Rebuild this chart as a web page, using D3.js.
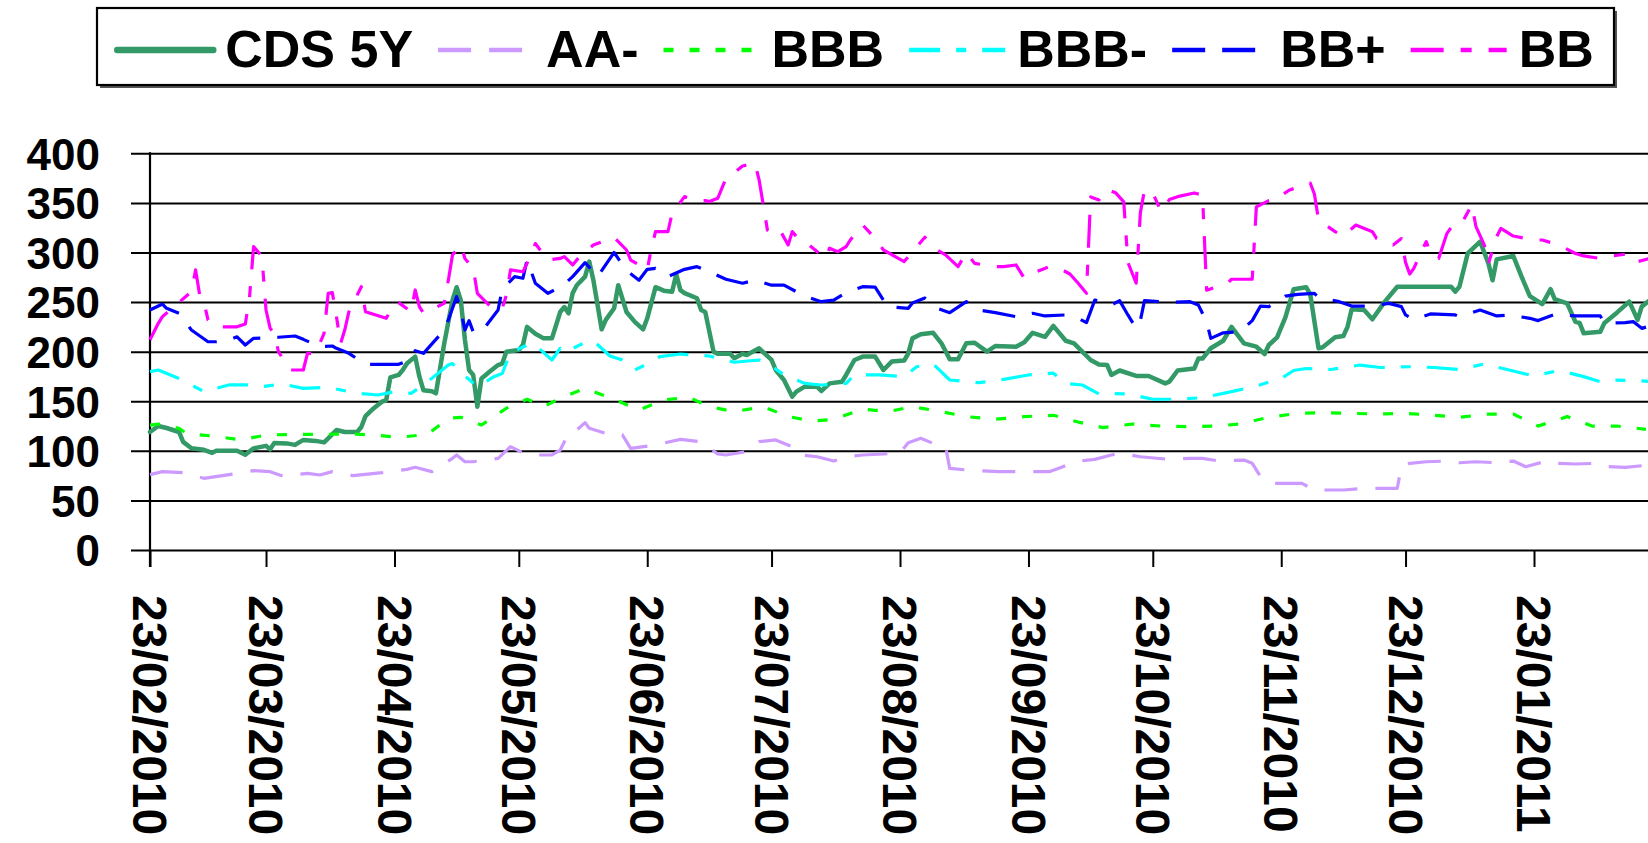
<!DOCTYPE html>
<html>
<head>
<meta charset="utf-8">
<script src="https://cdn.jsdelivr.net/npm/d3@7"></script>
<style>
  html, body { margin: 0; padding: 0; background: #fff; overflow: hidden; }
  svg { display: block; }
  text { font-family: "Liberation Sans", Arial, Helvetica, sans-serif; font-weight: bold; fill: #000; }
</style>
</head>
<body>
<svg id="chart" width="1648" height="843"></svg>
<script>
// ---- data ----------------------------------------------------------------
const seriesNames = ["CDS 5Y", "AA-", "BBB", "BBB-", "BB+", "BB"];

const xTickLabels = ["23/02/2010", "23/03/2010", "23/04/2010", "23/05/2010", "23/06/2010", "23/07/2010",
                     "23/08/2010", "23/09/2010", "23/10/2010", "23/11/2010", "23/12/2010", "23/01/2011"];
const yTickValues = [0, 50, 100, 150, 200, 250, 300, 350, 400];

const cds5y = [
  ["2010-02-23",119],["2010-02-25",125],["2010-02-27",123],["2010-03-02",119],["2010-03-03",109],
  ["2010-03-05",102.5],["2010-03-08",101],["2010-03-10",98],["2010-03-11",100],["2010-03-16",100],
  ["2010-03-18",96],["2010-03-20",102.5],["2010-03-23",105],["2010-03-24",101.5],["2010-03-25",108],
  ["2010-03-28",107.5],["2010-03-30",106],["2010-04-01",111],["2010-04-04",110],["2010-04-06",108.5],
  ["2010-04-07",112.6],["2010-04-09",121],["2010-04-11",119],["2010-04-14",119],["2010-04-15",124],
  ["2010-04-16",135],["2010-04-18",143],["2010-04-20",149.6],["2010-04-21",151],["2010-04-22",174],
  ["2010-04-24",176.5],["2010-04-25",181.5],["2010-04-26",188],["2010-04-28",195],["2010-04-29",175],
  ["2010-04-30",161],["2010-05-02",160],["2010-05-03",158],["2010-05-05",208],["2010-05-07",252],
  ["2010-05-08",265],["2010-05-09",252],["2010-05-10",212],["2010-05-11",181.5],["2010-05-12",176.5],
  ["2010-05-13",144.5],["2010-05-14",173],["2010-05-16",180],["2010-05-18",186.5],["2010-05-19",188],
  ["2010-05-20",200],["2010-05-23",201.7],["2010-05-24",206.7],["2010-05-25",225],["2010-05-27",218],
  ["2010-05-29",213.4],["2010-05-31",213.4],["2010-06-02",240],["2010-06-03",245],["2010-06-04",238.7],
  ["2010-06-05",259],["2010-06-06",267],["2010-06-08",275.6],["2010-06-09",290.8],["2010-06-10",272],
  ["2010-06-12",222.5],["2010-06-13",232],["2010-06-15",243.7],["2010-06-16",267],["2010-06-18",240],
  ["2010-06-20",230],["2010-06-22",222.5],["2010-06-23",233.6],["2010-06-25",265],["2010-06-27",261.5],
  ["2010-06-29",260.5],["2010-06-30",278],["2010-07-01",262],["2010-07-02",259],["2010-07-05",253.8],
  ["2010-07-06",242],["2010-07-07",240],["2010-07-09",200],["2010-07-10",197.8],["2010-07-13",197.8],
  ["2010-07-14",193.3],["2010-07-16",197.8],["2010-07-17",196.6],["2010-07-20",203.4],["2010-07-23",191.6],
  ["2010-07-24",181.5],["2010-07-26",171.4],["2010-07-28",154.6],["2010-07-29",159.7],["2010-07-31",164.7],
  ["2010-08-03",164.7],["2010-08-04",160.3],["2010-08-06",168],["2010-08-09",169.7],["2010-08-10",176.5],
  ["2010-08-12",191.6],["2010-08-14",195],["2010-08-17",195],["2010-08-19",181.5],["2010-08-21",190],
  ["2010-08-24",191],["2010-08-25",198.3],["2010-08-26",213.4],["2010-08-28",217.5],["2010-08-31",219],
  ["2010-09-02",208.4],["2010-09-04",192.3],["2010-09-06",192.3],["2010-09-08",208.4],["2010-09-10",209],
  ["2010-09-13",200],["2010-09-15",205.7],["2010-09-20",205],["2010-09-22",209.4],["2010-09-24",219],
  ["2010-09-27",215],["2010-09-29",226],["2010-10-02",211],["2010-10-04",208.4],["2010-10-08",191.6],
  ["2010-10-10",187],["2010-10-12",186.5],["2010-10-13",176.5],["2010-10-15",181],["2010-10-19",175.5],
  ["2010-10-22",175.5],["2010-10-26",168],["2010-10-27",169.7],["2010-10-29",181],["2010-11-02",183],
  ["2010-11-03",193],["2010-11-04",193],["2010-11-06",203.4],["2010-11-09",211],["2010-11-11",225],
  ["2010-11-14",208.4],["2010-11-17",205],["2010-11-19",197.6],["2010-11-20",206.7],["2010-11-22",214.5],
  ["2010-11-24",234.6],["2010-11-25",248.7],["2010-11-26",263],["2010-11-29",265],["2010-11-30",258],
  ["2010-12-02",203.4],["2010-12-03",204.4],["2010-12-06",214.5],["2010-12-08",215.8],["2010-12-09",225],
  ["2010-12-10",242.7],["2010-12-13",242],["2010-12-15",232.6],["2010-12-18",250.4],["2010-12-21",265.5],
  ["2011-01-03",265.5],["2011-01-04",260.5],["2011-01-05",265.5],["2011-01-07",299],["2011-01-10",311],
  ["2011-01-12",289],["2011-01-13",272],["2011-01-14",293],["2011-01-18",296.5],["2011-01-20",275.6],
  ["2011-01-22",256],["2011-01-25",248],["2011-01-27",263],["2011-01-28",253],["2011-01-31",248.7],
  ["2011-02-02",230],["2011-02-03",229],["2011-02-04",218.5],["2011-02-08",220],["2011-02-09",229],
  ["2011-02-12",239.3],["2011-02-15",250.4],["2011-02-17",232],["2011-02-18",245.4],["2011-02-20",252]
];

const aaMinus = [
  ["2010-02-23",76],["2010-02-26",79],["2010-03-03",78],["2010-03-08",72.3],["2010-03-15",76.6],
  ["2010-03-20",80],["2010-03-24",79],["2010-03-27",74.6],["2010-04-02",77.3],["2010-04-05",75.6],
  ["2010-04-08",79],["2010-04-13",75],["2010-04-20",78],["2010-04-26",81.3],["2010-04-28",83.4],
  ["2010-05-02",79],["2010-05-07",92.4],["2010-05-08",95.8],["2010-05-10",89],["2010-05-12",89],
  ["2010-05-18",92.4],["2010-05-21",104.2],["2010-05-24",98],["2010-05-27",95.8],["2010-05-31",95.8],
  ["2010-06-02",100.8],["2010-06-04",117.6],["2010-06-06",121],["2010-06-08",128.4],["2010-06-09",122.7],
  ["2010-06-15",115],["2010-06-17",116],["2010-06-19",102.5],["2010-06-25",105.9],["2010-07-01",111.6],
  ["2010-07-06",109.2],["2010-07-10",96.8],["2010-07-12",95.8],["2010-07-17",99.2],["2010-07-20",109.2],
  ["2010-07-24",111],["2010-07-28",104.2],["2010-07-30",95.8],["2010-08-03",94],["2010-08-07",89.7],
  ["2010-08-10",94],["2010-08-14",95.8],["2010-08-19",96.8],["2010-08-23",98],["2010-08-25",108.2],
  ["2010-08-28",112.6],["2010-08-31",107.5],["2010-09-03",104.2],["2010-09-04",82.3],["2010-09-08",80.7],
  ["2010-09-10",80],["2010-09-16",79],["2010-09-20",79],["2010-09-28",79],["2010-10-01",83.4],
  ["2010-10-04",89],["2010-10-09",91.4],["2010-10-13",95.8],["2010-10-15",97.5],["2010-10-20",94],
  ["2010-10-27",91.4],["2010-11-01",92.4],["2010-11-04",92.4],["2010-11-08",89.7],["2010-11-14",90.7],
  ["2010-11-16",87.4],["2010-11-18",74],["2010-11-21",67.2],["2010-11-28",67.2],["2010-12-01",60.5],
  ["2010-12-08",60.5],["2010-12-13",62.2],["2010-12-21",62.2],["2010-12-22",84],["2010-12-24",87.4],
  ["2010-12-28",89],["2011-01-02",89.7],["2011-01-05",88],["2011-01-09",89],["2011-01-14",88],
  ["2011-01-18",89.7],["2011-01-21",84],["2011-01-26",89.7],["2011-01-28",87.4],["2011-02-02",86.7],
  ["2011-02-07",87.4],["2011-02-10",84],["2011-02-14",83.4],["2011-02-20",85.7]
];

const bbb = [
  ["2010-02-23",126],["2010-02-25",127],["2010-03-02",122.7],["2010-03-04",117],["2010-03-10",115],
  ["2010-03-17",111],["2010-03-23",116],["2010-03-30",116.6],["2010-04-05",116.6],["2010-04-13",117],
  ["2010-04-18",116],["2010-04-24",113.6],["2010-05-01",116.6],["2010-05-06",132.8],["2010-05-09",133.8],
  ["2010-05-14",126],["2010-05-20",142.9],["2010-05-25",152],["2010-05-29",144.5],["2010-06-02",153],
  ["2010-06-08",163],["2010-06-15",152],["2010-06-21",141.2],["2010-06-27",151.3],["2010-07-03",154],
  ["2010-07-08",144.5],["2010-07-14",139.5],["2010-07-21",144.5],["2010-07-27",134.5],["2010-08-02",130],
  ["2010-08-07",131.8],["2010-08-14",142],["2010-08-20",139.5],["2010-08-26",144.5],["2010-09-02",139.5],
  ["2010-09-08",134.5],["2010-09-15",131.8],["2010-09-22",134.5],["2010-09-29",135.8],["2010-10-05",129],
  ["2010-10-11",123.4],["2010-10-18",127],["2010-10-25",125],["2010-10-31",124.4],["2010-11-07",125],
  ["2010-11-13",127],["2010-11-20",133.8],["2010-11-27",137.8],["2010-12-03",138.5],["2010-12-10",137.8],
  ["2010-12-16",137.1],["2010-12-23",137.8],["2010-12-30",135.8],["2011-01-05",133.8],["2011-01-12",137.1],
  ["2011-01-18",137.1],["2011-01-24",125],["2011-01-31",134.5],["2011-02-06",125],["2011-02-12",125],
  ["2011-02-19",121.7]
];

const bbbMinus = [
  ["2010-02-23",179.8],["2010-02-25",181.5],["2010-03-02",173],["2010-03-08",159.7],["2010-03-14",166.4],
  ["2010-03-19",166.4],["2010-03-22",164.7],["2010-03-27",167.4],["2010-04-01",163],["2010-04-07",164],
  ["2010-04-14",158],["2010-04-19",156.3],["2010-04-23",159.7],["2010-04-27",158],["2010-04-30",166.4],
  ["2010-05-06",186.5],["2010-05-07",188],["2010-05-10",175.5],["2010-05-13",164.7],["2010-05-17",174.8],
  ["2010-05-19",178],["2010-05-21",199],["2010-05-26",208.4],["2010-05-27",206.7],["2010-05-31",191.6],
  ["2010-06-02",203.4],["2010-06-03",199],["2010-06-08",209.4],["2010-06-10",211],["2010-06-14",195.6],
  ["2010-06-17",191.6],["2010-06-20",181.5],["2010-06-25",191.6],["2010-06-26",195],["2010-07-01",197.6],
  ["2010-07-08",195.6],["2010-07-14",189.3],["2010-07-20",191.6],["2010-07-23",185.5],["2010-07-26",176.5],
  ["2010-07-31",168],["2010-08-04",166.4],["2010-08-10",168],["2010-08-12",176.5],["2010-08-18",176.5],
  ["2010-08-24",174.8],["2010-08-27",184.8],["2010-08-31",187.6],["2010-09-04",171.4],["2010-09-11",168.7],
  ["2010-09-17",172],["2010-09-23",176.5],["2010-09-29",178.3],["2010-10-02",168],["2010-10-06",166.4],
  ["2010-10-10",157.3],["2010-10-12",158],["2010-10-17",157.3],["2010-10-23",152],["2010-10-29",152],
  ["2010-11-04",153.6],["2010-11-11",159.7],["2010-11-17",165.4],["2010-11-23",173],["2010-11-26",181],
  ["2010-11-29",183],["2010-12-05",182],["2010-12-12",186.5],["2010-12-17",184],["2010-12-24",184.8],
  ["2010-12-30",184],["2011-01-05",182],["2011-01-11",187.6],["2011-01-17",181.5],["2011-01-23",175.5],
  ["2011-01-29",181],["2011-02-04",174.8],["2011-02-08",169.7],["2011-02-11",171.4],["2011-02-17",170.8],
  ["2011-02-20",170]
];

const bbPlus = [
  ["2010-02-23",242],["2010-02-26",248],["2010-02-27",243.7],["2010-03-02",238.7],["2010-03-05",221.8],
  ["2010-03-09",210],["2010-03-11",210],["2010-03-14",211.8],["2010-03-16",215],["2010-03-18",206.7],
  ["2010-03-20",213.4],["2010-03-26",214.5],["2010-03-30",215.8],["2010-04-01",212.4],["2010-04-05",205],
  ["2010-04-08",205.7],["2010-04-09",203.4],["2010-04-12",198.3],["2010-04-16",187.2],["2010-04-24",187.2],
  ["2010-04-27",192.3],["2010-04-28",201],["2010-04-30",198.3],["2010-05-05",221.8],["2010-05-06",232],
  ["2010-05-08",255.5],["2010-05-09",242],["2010-05-10",221.8],["2010-05-11",231.3],["2010-05-12",220],
  ["2010-05-14",220],["2010-05-18",242],["2010-05-19",263],["2010-05-22",275.6],["2010-05-24",274],
  ["2010-05-25",292.4],["2010-05-27",269],["2010-05-30",258.8],["2010-06-01",263],["2010-06-03",268],
  ["2010-06-05",275.6],["2010-06-08",289.8],["2010-06-11",275.6],["2010-06-15",300],["2010-06-18",281.7],
  ["2010-06-21",272],["2010-06-23",283],["2010-06-25",284],["2010-06-28",275.6],["2010-07-02",283],
  ["2010-07-05",285.7],["2010-07-08",280.6],["2010-07-12",273],["2010-07-16",269],["2010-07-19",272],
  ["2010-07-23",267],["2010-07-26",267],["2010-07-31",256],["2010-08-04",250.4],["2010-08-07",252],
  ["2010-08-10",259.7],["2010-08-14",265.5],["2010-08-17",265],["2010-08-20",245.4],["2010-08-25",243.7],
  ["2010-08-26",249],["2010-08-29",254],["2010-09-01",243.7],["2010-09-04",239.3],["2010-09-08",250.4],
  ["2010-09-11",242],["2010-09-15",239.3],["2010-09-20",235.3],["2010-09-24",238.7],["2010-09-27",236],
  ["2010-10-02",237],["2010-10-05",233.6],["2010-10-07",229.3],["2010-10-09",252],["2010-10-11",250.4],
  ["2010-10-13",247],["2010-10-15",251.4],["2010-10-17",237],["2010-10-19",223.5],["2010-10-20",231.3],
  ["2010-10-21",251.4],["2010-10-27",249.7],["2010-11-01",250.4],["2010-11-03",247],["2010-11-05",230],
  ["2010-11-06",213.4],["2010-11-09",219],["2010-11-13",220],["2010-11-16",231.3],["2010-11-18",246],
  ["2010-11-20",245.4],["2010-11-24",256],["2010-11-27",257.8],["2010-12-01",258.8],["2010-12-02",254.8],
  ["2010-12-07",250.4],["2010-12-10",246],["2010-12-14",246],["2010-12-19",248.7],["2010-12-22",245.4],
  ["2010-12-23",237],["2010-12-25",232.6],["2010-12-29",238],["2011-01-04",237],["2011-01-05",235.3],
  ["2011-01-10",242],["2011-01-14",236],["2011-01-17",237],["2011-01-22",233.6],["2011-01-24",231.3],
  ["2011-01-28",237.6],["2011-02-02",236],["2011-02-08",236],["2011-02-09",228.6],["2011-02-14",229.3],
  ["2011-02-16",230.2],["2011-02-18",223.5],["2011-02-20",225.9]
];

const bb = [
  ["2010-02-23",212],["2010-02-25",228.6],["2010-02-26",235.3],["2010-03-05",260.5],["2010-03-06",282.4],
  ["2010-03-07",257],["2010-03-08",250.4],["2010-03-09",232],["2010-03-11",225],["2010-03-16",225],
  ["2010-03-18",228],["2010-03-19",253.8],["2010-03-20",306],["2010-03-22",296],["2010-03-23",242],
  ["2010-03-24",223.5],["2010-03-25",218.5],["2010-03-26",200],["2010-03-28",186.5],["2010-03-29",181.5],
  ["2010-04-01",181.5],["2010-04-02",198.3],["2010-04-04",198.3],["2010-04-06",218.5],["2010-04-07",258.8],
  ["2010-04-08",259.5],["2010-04-09",235.3],["2010-04-10",208.4],["2010-04-11",221.8],["2010-04-12",240.3],
  ["2010-04-14",257],["2010-04-15",265.5],["2010-04-16",240.3],["2010-04-21",233.6],["2010-04-23",248.7],
  ["2010-04-24",249.4],["2010-04-27",240.3],["2010-04-28",262.2],["2010-04-29",245.4],["2010-04-30",238.7],
  ["2010-05-05",248.7],["2010-05-06",272],["2010-05-07",297.5],["2010-05-09",307.6],["2010-05-10",294],
  ["2010-05-12",284],["2010-05-13",258.8],["2010-05-17",242],["2010-05-19",243.7],["2010-05-20",257],
  ["2010-05-21",282.4],["2010-05-24",280.6],["2010-05-25",289],["2010-05-27",309],["2010-05-30",292.4],
  ["2010-06-02",294],["2010-06-03",295.8],["2010-06-05",287.4],["2010-06-07",297.5],["2010-06-10",307.6],
  ["2010-06-15",315.3],["2010-06-18",302.5],["2010-06-19",292.4],["2010-06-23",282.4],["2010-06-24",304.3],
  ["2010-06-25",321],["2010-06-28",321],["2010-06-29",339.5],["2010-07-02",356.3],["2010-07-05",352.3],
  ["2010-07-07",352.3],["2010-07-08",351.3],["2010-07-10",354.6],["2010-07-12",374.8],["2010-07-14",380.5],
  ["2010-07-16",387.2],["2010-07-19",390],["2010-07-20",373],["2010-07-21",348],["2010-07-22",322.7],
  ["2010-07-23",319.3],["2010-07-25",322.7],["2010-07-27",307.6],["2010-07-28",321],["2010-07-29",316],
  ["2010-08-01",307.6],["2010-08-05",294],["2010-08-06",304.3],["2010-08-08",300.8],["2010-08-10",305.9],
  ["2010-08-11",312.6],["2010-08-14",327.7],["2010-08-17",314.3],["2010-08-19",302.5],["2010-08-24",290.8],
  ["2010-08-26",300.8],["2010-08-29",315.3],["2010-09-01",302.5],["2010-09-03",297.5],["2010-09-06",285.7],
  ["2010-09-08",299.8],["2010-09-10",289],["2010-09-15",285.7],["2010-09-17",285.7],["2010-09-20",287.4],
  ["2010-09-22",274],["2010-09-24",279],["2010-09-28",285.7],["2010-09-30",285],["2010-10-03",278.3],
  ["2010-10-05",269],["2010-10-07",258.8],["2010-10-08",356],["2010-10-10",353],["2010-10-12",363.7],
  ["2010-10-14",360.3],["2010-10-16",351],["2010-10-17",290],["2010-10-19",269],["2010-10-20",340],
  ["2010-10-21",363],["2010-10-23",360],["2010-10-25",341.5],["2010-10-27",353.3],["2010-10-29",356.3],
  ["2010-11-02",360],["2010-11-04",358],["2010-11-05",262],["2010-11-10",269],["2010-11-11",273],
  ["2010-11-16",273],["2010-11-17",346],["2010-11-20",352.3],["2010-11-21",352.3],["2010-11-25",363],
  ["2010-11-30",370],["2010-12-01",359],["2010-12-02",332.8],["2010-12-06",321],["2010-12-08",316.6],
  ["2010-12-11",327.7],["2010-12-15",321],["2010-12-16",314.3],["2010-12-20",307.6],["2010-12-22",314],
  ["2010-12-23",290],["2010-12-24",278.3],["2010-12-25",284],["2010-12-27",302.5],["2010-12-28",311],
  ["2010-12-29",299],["2010-12-31",294],["2011-01-02",319.3],["2011-01-04",331],["2011-01-06",332.8],
  ["2011-01-08",348],["2011-01-09",326],["2011-01-11",307.6],["2011-01-12",289],["2011-01-14",316],
  ["2011-01-15",324.3],["2011-01-18",316.6],["2011-01-23",312.6],["2011-01-25",312.6],["2011-01-29",307.6],
  ["2011-02-02",299],["2011-02-04",296.5],["2011-02-08",294],["2011-02-10",296],["2011-02-15",298.8],
  ["2011-02-17",290.8],["2011-02-20",294]
];

// ---- styles for each series ----------------------------------------------
const seriesStyle = [
  { color: "#339966", width: 4.5, dash: null,            legendWidth: 6.5 },
  { color: "#CC99FF", width: 3.2, dash: "33 18",         legendWidth: 4.5 },
  { color: "#00FF00", width: 3.2, dash: "10 16",         legendWidth: 4.5 },
  { color: "#00FFFF", width: 3.2, dash: "31 16 10 16",   legendWidth: 4.5 },
  { color: "#0000FF", width: 3.2, dash: "33 17",         legendWidth: 4.5 },
  { color: "#FF00FF", width: 3.2, dash: "33 17 11 17",   legendWidth: 4.5 }
];
const seriesData = [cds5y, aaMinus, bbb, bbbMinus, bbPlus, bb];

// ---- scales ---------------------------------------------------------------
const parseIso = d3.utcParse("%Y-%m-%d");
const parseLabel = d3.utcParse("%d/%m/%Y");
const tickDates = xTickLabels.map(parseLabel);

const svg = d3.select("#chart");
const W = 1648, H = 843;
const plotLeft = 150, plotBottom = 550, plotTop = 153.3;

const x = d3.scaleUtc()
  .domain([tickDates[0], tickDates[tickDates.length - 1]])
  .range([plotLeft, 1534]);
const y = d3.scaleLinear().domain([0, 400]).range([plotBottom, plotTop]);

// ---- gridlines + y axis ---------------------------------------------------
const yAxis = d3.axisLeft(y)
  .tickValues(yTickValues)
  .tickSize(-(W - plotLeft + 5))
  .tickPadding(52)
  .tickFormat(d3.format("d"));

const gY = svg.append("g")
  .attr("transform", `translate(${plotLeft},0)`)
  .call(yAxis);
gY.select(".domain").remove();
gY.selectAll(".tick line")
  .attr("x1", -19)
  .attr("stroke", "#000")
  .attr("stroke-width", 2);
gY.selectAll(".tick text")
  .attr("x", -50)
  .attr("dy", "0.36em")
  .style("font-size", "44px")
  .style("font-family", "'Liberation Sans', Arial, sans-serif")
  .style("font-weight", "bold")
  .attr("fill", "#000");

// vertical axis line (runs down to the first x tick)
svg.append("line")
  .attr("x1", plotLeft).attr("x2", plotLeft)
  .attr("y1", plotTop - 1).attr("y2", plotBottom + 17)
  .attr("stroke", "#000").attr("stroke-width", 2.2);

// ---- x axis ---------------------------------------------------------------
const xAxis = d3.axisBottom(x)
  .tickValues(tickDates)
  .tickSize(17)
  .tickFormat(d3.utcFormat("%d/%m/%Y"));

const gX = svg.append("g")
  .attr("transform", `translate(0,${plotBottom})`)
  .call(xAxis);
gX.select(".domain").remove();
gX.selectAll(".tick line").attr("stroke", "#000").attr("stroke-width", 2);
gX.selectAll(".tick text")
  .attr("transform", "rotate(90)")
  .attr("x", 45)
  .attr("y", 0)
  .attr("dy", "0.36em")
  .attr("text-anchor", "start")
  .style("font-size", "48px")
  .style("font-family", "'Liberation Sans', Arial, sans-serif")
  .style("font-weight", "bold")
  .attr("fill", "#000");

// ---- series lines ---------------------------------------------------------
const line = d3.line()
  .x(d => x(parseIso(d[0])))
  .y(d => y(d[1]));

const gLines = svg.append("g");
seriesData.forEach((data, i) => {
  const st = seriesStyle[i];
  gLines.append("path")
    .datum(data)
    .attr("fill", "none")
    .attr("stroke", st.color)
    .attr("stroke-width", st.width)
    .attr("stroke-linejoin", "round")
    .attr("stroke-linecap", st.dash ? "butt" : "round")
    .attr("stroke-dasharray", st.dash)
    .attr("d", line);
});

// ---- legend ---------------------------------------------------------------
const legendBox = { x: 97, y: 8, w: 1517, h: 77 };
const legend = svg.append("g");
// shadow
legend.append("rect")
  .attr("x", legendBox.x + 3).attr("y", legendBox.y + 3)
  .attr("width", legendBox.w).attr("height", legendBox.h)
  .attr("fill", "#555");
legend.append("rect")
  .attr("x", legendBox.x).attr("y", legendBox.y)
  .attr("width", legendBox.w).attr("height", legendBox.h)
  .attr("fill", "#fff").attr("stroke", "#000").attr("stroke-width", 2.2);

const items = legend.append("g");
const sampleLen = 96, sampleToText = 108, itemGap = 25, lineY = 50;
let cx = 0;
seriesNames.forEach((name, i) => {
  const st = seriesStyle[i];
  items.append("line")
    .attr("x1", cx).attr("x2", cx + sampleLen)
    .attr("y1", lineY).attr("y2", lineY)
    .attr("stroke", st.color)
    .attr("stroke-width", st.legendWidth)
    .attr("stroke-linecap", st.dash ? "butt" : "round")
    .attr("stroke-dasharray", st.dash);
  const t = items.append("text")
    .attr("x", cx + sampleToText)
    .attr("y", 67)
    .style("font-size", "52px")
    .text(name);
  cx = cx + sampleToText + t.node().getComputedTextLength() + itemGap;
});
const totalW = cx - itemGap;
const offset = legendBox.x + (legendBox.w - totalW) / 2;
items.attr("transform", `translate(${offset},0)`);
</script>
</body>
</html>
